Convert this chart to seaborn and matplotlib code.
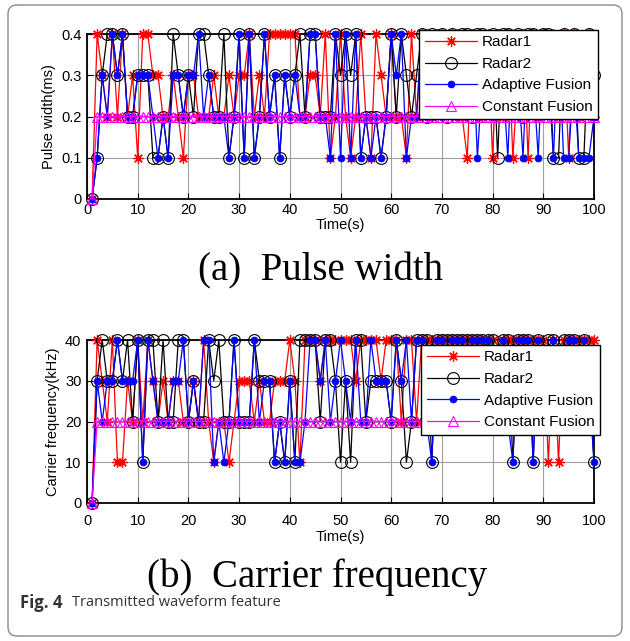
import matplotlib
matplotlib.use("Agg")
import matplotlib.pyplot as plt
from matplotlib.patches import FancyBboxPatch
import seaborn as sns

# ---------------- data ----------------
time_s = list(range(1, 101))

pw_radar1 = [0, 0.4, 0.3, 0.2, 0.4, 0.2, 0.4, 0.2, 0.3, 0.1,
             0.4, 0.4, 0.3, 0.3, 0.2, 0.2, 0.3, 0.2, 0.1, 0.3,
             0.3, 0.2, 0.2, 0.2, 0.3, 0.2, 0.2, 0.3, 0.2, 0.3,
             0.3, 0.4, 0.2, 0.3, 0.2, 0.4, 0.4, 0.4, 0.4, 0.4,
             0.4, 0.2, 0.2, 0.3, 0.3, 0.2, 0.4, 0.1, 0.2, 0.4,
             0.2, 0.1, 0.2, 0.4, 0.2, 0.1, 0.4, 0.3, 0.2, 0.4,
             0.2, 0.2, 0.1, 0.4, 0.2, 0.4, 0.4, 0.2, 0.4, 0.4,
             0.3, 0.4, 0.4, 0.2, 0.1, 0.4, 0.3, 0.2, 0.4, 0.1,
             0.4, 0.2, 0.4, 0.1, 0.3, 0.4, 0.1, 0.4, 0.2, 0.4,
             0.3, 0.4, 0.2, 0.4, 0.1, 0.4, 0.2, 0.3, 0.4, 0.2]
pw_radar2 = [0, 0.1, 0.3, 0.4, 0.4, 0.3, 0.4, 0.2, 0.2, 0.3,
             0.3, 0.3, 0.1, 0.1, 0.2, 0.1, 0.4, 0.3, 0.2, 0.3,
             0.2, 0.4, 0.4, 0.3, 0.2, 0.2, 0.4, 0.1, 0.2, 0.4,
             0.1, 0.4, 0.1, 0.2, 0.4, 0.2, 0.3, 0.1, 0.3, 0.2,
             0.3, 0.4, 0.2, 0.4, 0.4, 0.2, 0.2, 0.2, 0.4, 0.3,
             0.4, 0.3, 0.4, 0.1, 0.2, 0.2, 0.2, 0.1, 0.2, 0.4,
             0.2, 0.4, 0.3, 0.2, 0.3, 0.4, 0.2, 0.4, 0.3, 0.4,
             0.2, 0.4, 0.3, 0.4, 0.4, 0.2, 0.4, 0.4, 0.3, 0.4,
             0.1, 0.4, 0.4, 0.3, 0.4, 0.2, 0.4, 0.4, 0.3, 0.4,
             0.4, 0.1, 0.1, 0.4, 0.3, 0.4, 0.1, 0.1, 0.4, 0.3]
pw_adaptive = [0, 0.1, 0.3, 0.2, 0.4, 0.3, 0.4, 0.2, 0.2, 0.3,
               0.3, 0.3, 0.2, 0.1, 0.2, 0.1, 0.3, 0.3, 0.2, 0.3,
               0.3, 0.4, 0.2, 0.3, 0.2, 0.2, 0.2, 0.1, 0.2, 0.4,
               0.1, 0.4, 0.1, 0.2, 0.4, 0.2, 0.3, 0.1, 0.3, 0.2,
               0.3, 0.2, 0.2, 0.4, 0.4, 0.2, 0.2, 0.1, 0.4, 0.1,
               0.4, 0.1, 0.4, 0.1, 0.2, 0.1, 0.2, 0.1, 0.2, 0.4,
               0.3, 0.4, 0.1, 0.2, 0.2, 0.4, 0.2, 0.3, 0.4, 0.2,
               0.4, 0.3, 0.2, 0.4, 0.3, 0.4, 0.1, 0.3, 0.4, 0.2,
               0.4, 0.3, 0.1, 0.4, 0.3, 0.1, 0.4, 0.3, 0.1, 0.4,
               0.3, 0.1, 0.4, 0.1, 0.1, 0.3, 0.1, 0.1, 0.1, 0.2]
pw_constant = [0, 0.2, 0.2, 0.2, 0.2, 0.2, 0.2, 0.2, 0.2, 0.2,
               0.2, 0.2, 0.2, 0.2, 0.2, 0.2, 0.2, 0.2, 0.2, 0.2,
               0.2, 0.2, 0.2, 0.2, 0.2, 0.2, 0.2, 0.2, 0.2, 0.2,
               0.2, 0.2, 0.2, 0.2, 0.2, 0.2, 0.2, 0.2, 0.2, 0.2,
               0.2, 0.2, 0.2, 0.2, 0.2, 0.2, 0.2, 0.2, 0.2, 0.2,
               0.2, 0.2, 0.2, 0.2, 0.2, 0.2, 0.2, 0.2, 0.2, 0.2,
               0.2, 0.2, 0.2, 0.2, 0.2, 0.2, 0.2, 0.2, 0.2, 0.2,
               0.2, 0.2, 0.2, 0.2, 0.2, 0.2, 0.2, 0.2, 0.2, 0.2,
               0.2, 0.2, 0.2, 0.2, 0.2, 0.2, 0.2, 0.2, 0.2, 0.2,
               0.2, 0.2, 0.2, 0.2, 0.2, 0.2, 0.2, 0.2, 0.2, 0.2]

cf_radar1 = [0, 40, 30, 20, 40, 10, 10, 30, 20, 40,
             20, 40, 30, 20, 30, 20, 30, 30, 20, 20,
             30, 20, 40, 20, 10, 20, 20, 10, 20, 30,
             30, 30, 20, 30, 20, 20, 30, 30, 30, 40,
             30, 10, 40, 40, 40, 30, 40, 40, 40, 40,
             40, 40, 30, 40, 40, 40, 40, 30, 40, 40,
             40, 20, 40, 40, 20, 40, 40, 40, 40, 40,
             40, 40, 40, 40, 40, 40, 40, 40, 40, 40,
             30, 40, 40, 40, 40, 40, 40, 40, 40, 40,
             10, 40, 10, 40, 40, 40, 40, 40, 40, 40]
cf_radar2 = [0, 30, 40, 30, 30, 40, 30, 40, 20, 40,
             10, 40, 40, 20, 40, 20, 20, 40, 40, 20,
             30, 20, 20, 40, 30, 40, 20, 20, 40, 20,
             20, 20, 40, 30, 30, 30, 10, 20, 10, 30,
             10, 40, 40, 40, 40, 20, 40, 40, 30, 10,
             30, 10, 40, 40, 20, 30, 30, 30, 30, 20,
             40, 30, 10, 20, 40, 40, 40, 10, 40, 40,
             40, 40, 40, 40, 40, 40, 40, 40, 40, 40,
             20, 40, 40, 10, 40, 40, 40, 10, 40, 20,
             40, 40, 20, 40, 40, 40, 20, 40, 30, 10]
cf_adaptive = [0, 30, 20, 30, 30, 40, 30, 30, 30, 40,
               10, 40, 30, 20, 20, 20, 30, 30, 40, 20,
               30, 20, 40, 40, 10, 20, 10, 20, 40, 20,
               20, 20, 40, 20, 30, 30, 10, 20, 10, 30,
               10, 10, 20, 40, 40, 30, 40, 20, 30, 40,
               30, 20, 40, 20, 20, 40, 30, 30, 30, 20,
               40, 30, 40, 20, 40, 40, 20, 10, 40, 40,
               30, 40, 40, 40, 20, 40, 40, 40, 40, 30,
               20, 40, 20, 10, 40, 40, 40, 10, 40, 20,
               30, 40, 20, 30, 40, 40, 20, 40, 30, 10]
cf_constant = [0, 20, 20, 20, 20, 20, 20, 20, 20, 20,
               20, 20, 20, 20, 20, 20, 20, 20, 20, 20,
               20, 20, 20, 20, 20, 20, 20, 20, 20, 20,
               20, 20, 20, 20, 20, 20, 20, 20, 20, 20,
               20, 20, 20, 20, 20, 20, 20, 20, 20, 20,
               20, 20, 20, 20, 20, 20, 20, 20, 20, 20,
               20, 20, 20, 20, 20, 20, 20, 20, 20, 20,
               20, 20, 20, 20, 20, 20, 20, 20, 20, 20,
               20, 20, 20, 20, 20, 20, 20, 20, 20, 20,
               20, 20, 20, 20, 20, 20, 20, 20, 20, 20]

series_names = ["Radar1", "Radar2", "Adaptive Fusion", "Constant Fusion"]
x_ticks = [0, 10, 20, 30, 40, 50, 60, 70, 80, 90, 100]
pw_ticks = [0, 0.1, 0.2, 0.3, 0.4]
pw_tick_labels = ["0", "0.1", "0.2", "0.3", "0.4"]
cf_ticks = [0, 10, 20, 30, 40]

# ---------------- style ----------------
sns.set_style("white")
plt.rcParams["font.family"] = ["Liberation Sans", "DejaVu Sans"]
plt.rcParams["text.color"] = "black"
plt.rcParams["axes.labelcolor"] = "black"
plt.rcParams["xtick.color"] = "black"
plt.rcParams["ytick.color"] = "black"

fig = plt.figure(figsize=(6.3, 6.41), dpi=100)

# rounded frame around the whole figure
frame = FancyBboxPatch((8 / 630, 5 / 641), 614 / 630, 631 / 641,
                       boxstyle="round,pad=0,rounding_size=0.014",
                       transform=fig.transFigure, fill=False,
                       edgecolor="#8a8a8a", linewidth=1.0)
fig.patches.append(frame)

ax1 = fig.add_axes([87 / 630, 1 - 199 / 641, 507 / 630, 165 / 641])
ax2 = fig.add_axes([87 / 630, 1 - 503 / 641, 507 / 630, 163 / 641])

asterisk = (8, 2, 0)
styles = [
    dict(color="red", marker=asterisk, markersize=7.5, markerfacecolor="red",
         markeredgecolor="red", markeredgewidth=0.9),
    dict(color="black", marker="o", markersize=8.5, markerfacecolor="none",
         markeredgecolor="black", markeredgewidth=0.8),
    dict(color="blue", marker="o", markersize=5, markerfacecolor="blue",
         markeredgecolor="blue", markeredgewidth=0.5),
    dict(color="magenta", marker="^", markersize=7, markerfacecolor="none",
         markeredgecolor="magenta", markeredgewidth=0.8),
]


def draw(ax, series, yticks, ytick_labels, ylim, ylabel, legend_anchor,
         tick_pad, xlabel_pad):
    for name, vals, st in zip(series_names, series, styles):
        sns.lineplot(x=time_s, y=vals, ax=ax, label=name, linewidth=0.9,
                     clip_on=False, zorder=3, **st)
    ax.set_xlim(0, 100)
    ax.set_ylim(*ylim)
    ax.set_xticks(x_ticks)
    ax.set_yticks(yticks)
    ax.set_yticklabels(ytick_labels)
    ax.grid(True, color="#a0a0a0", linewidth=0.8)
    ax.set_axisbelow(True)
    for sp in ax.spines.values():
        sp.set_visible(True)
        sp.set_color("black")
        sp.set_linewidth(1.3)
    ax.tick_params(direction="in", length=4, width=0.8, labelsize=10.5,
                   colors="black", left=True, bottom=True, pad=4)
    ax.tick_params(axis="x", pad=tick_pad)
    ax.set_xlabel("Time(s)", fontsize=10.5, labelpad=xlabel_pad)
    ax.set_ylabel(ylabel, fontsize=10.5, labelpad=4)
    leg = ax.legend(loc="upper right", bbox_to_anchor=legend_anchor,
                    fontsize=11, frameon=True, fancybox=False,
                    handlelength=3.4, borderpad=0.35, labelspacing=0.5,
                    handletextpad=0.35, borderaxespad=0)
    leg.get_frame().set_edgecolor("black")
    leg.get_frame().set_linewidth(1.0)
    leg.get_frame().set_alpha(1)
    leg.set_zorder(10)


draw(ax1, [pw_radar1, pw_radar2, pw_adaptive, pw_constant],
     pw_ticks, pw_tick_labels, (0, 0.4), "Pulse width(ms)", (1.008, 1.025),
     3, 0.5)
draw(ax2, [cf_radar1, cf_radar2, cf_adaptive, cf_constant],
     cf_ticks, [str(v) for v in cf_ticks], (0, 40),
     "Carrier frequency(kHz)", (1.012, 0.97), 8, 1)

serif = ["Liberation Serif", "DejaVu Serif"]
fig.text(0.508, 1 - 271 / 641, "(a)  Pulse width", ha="center", va="center",
         fontsize=28, family=serif, color="black")
fig.text(0.503, 1 - 577 / 641, "(b)  Carrier frequency", ha="center",
         va="center", fontsize=28, family=serif, color="black")

sans = ["Open Sans", "DejaVu Sans"]
fig.text(20 / 630, 1 - 603 / 641, "Fig. 4", ha="left", va="center",
         fontsize=12, fontweight="bold", color="#333333", family=sans)
fig.text(72 / 630, 1 - 603 / 641, "Transmitted waveform feature", ha="left",
         va="center", fontsize=10.5, color="#333333", family=sans)

fig.savefig("out.png", dpi=100)
